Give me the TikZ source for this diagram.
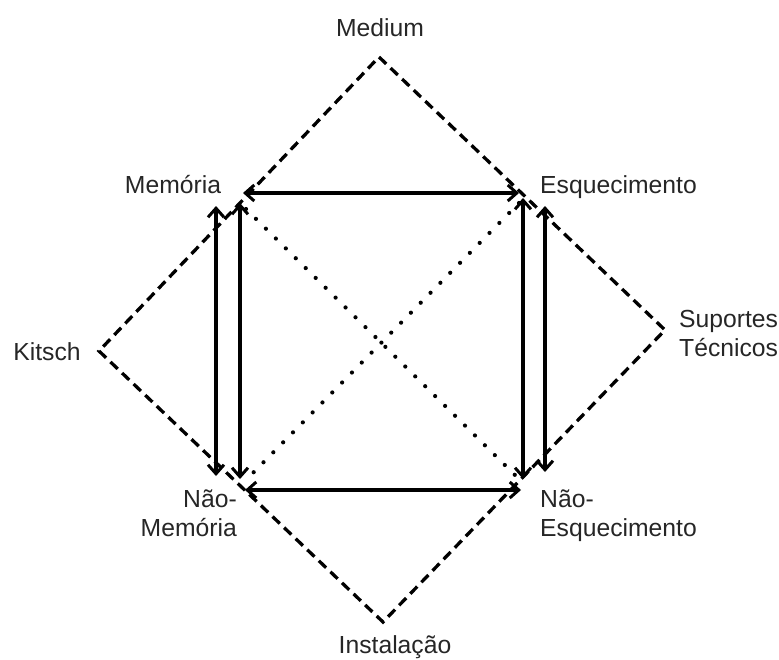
\documentclass[tikz,border=0pt]{standalone}
\usepackage{fontspec}
\setmainfont{Liberation Sans}
\usetikzlibrary{arrows.meta}
\tikzset{
  lbl/.style={inner sep=0pt, font=\fontsize{24.8}{29}\selectfont, text=black!85},
  diam/.style={line width=3.3bp, dash pattern=on 10bp off 6bp},
  tipb/.tip={Straight Barb[length=9bp,width=16bp,line width=3bp]},
  dbl/.style={line width=3.4bp, tipb-tipb},
  dots/.style={line width=4.2bp, line cap=round, dash pattern=on 0bp off 14bp}
}
\begin{document}
\begin{tikzpicture}[x=1bp,y=-1bp]
\useasboundingbox (0,0) rectangle (779,660);
% diamond vertices
\coordinate (T) at (379,57);
\coordinate (R) at (665,330);
\coordinate (B) at (383,622);
\coordinate (L) at (99,351);
\draw[diam] (T) -- (R) -- (B) -- (L) -- cycle;
% arrow ends
\coordinate (tl1) at (243,193);
\coordinate (tr1) at (519,193);
\coordinate (bl1) at (245,490);
\coordinate (br1) at (521,490);
\coordinate (lo1) at (216,206);
\coordinate (lo2) at (216,476);
\coordinate (li1) at (240,203);
\coordinate (li2) at (240,479);
\coordinate (ri1) at (523,198);
\coordinate (ri2) at (523,479);
\coordinate (ro1) at (545,206);
\coordinate (ro2) at (545,472);
\draw[dbl] (tl1) -- (tr1);
\draw[dbl] (bl1) -- (br1);
\draw[dbl] (lo1) -- (lo2);
\draw[dbl] (li1) -- (li2);
\draw[dbl] (ri1) -- (ri2);
\draw[dbl] (ro1) -- (ro2);
% dotted diagonals
\coordinate (d1a) at (246,209);
\coordinate (d1b) at (520,480);
\coordinate (d2a) at (519,203);
\coordinate (d2b) at (247,479);
\draw[dots] (d1a) -- (d1b);
\draw[dots] (d2a) -- (d2b);
% labels
\node[lbl, anchor=base] (medium) at (380,37) {Medium};
\node[lbl, anchor=base] (memoria) at (173,193) {Memória};
\node[lbl, anchor=base west] (esq) at (540,193) {Esquecimento};
\node[lbl, anchor=base] (kitsch) at (47,360) {Kitsch};
\node[lbl, anchor=north west, align=left] (suportes) at (679,307) {\strut Suportes\\\strut Técnicos};
\node[lbl, anchor=north east, align=right] (naomem) at (237,487) {\strut Não-\\\strut Memória};
\node[lbl, anchor=north west, align=left] (naoesq) at (540,487) {\strut Não-\\\strut Esquecimento};
\node[lbl, anchor=base] (inst) at (395,653) {Instalação};
\end{tikzpicture}
\end{document}
